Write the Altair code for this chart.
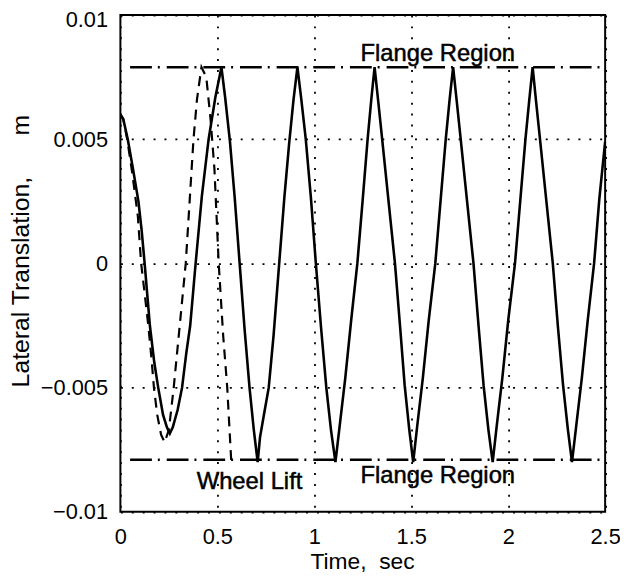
import altair as alt
import pandas as pd

# ---- data (time in s, translation in mm -> converted to m) ----
solid_t = [0.000, 0.015, 0.038, 0.065, 0.093, 0.110, 0.125, 0.152, 0.175, 0.195, 0.220, 0.240,
           0.255, 0.270, 0.295, 0.318, 0.340, 0.360, 0.388, 0.420, 0.455, 0.490, 0.521,
           0.540, 0.565, 0.590, 0.615, 0.640, 0.666, 0.688, 0.708,
           0.720, 0.740, 0.765, 0.790, 0.819, 0.845, 0.870, 0.893, 0.913,
           0.933, 0.956, 0.983, 1.008, 1.035, 1.062, 1.086, 1.109,
           1.130, 1.160, 1.190, 1.222, 1.250, 1.275, 1.294, 1.311,
           1.330, 1.350, 1.383, 1.416, 1.443, 1.466, 1.490, 1.510,
           1.530, 1.560, 1.590, 1.624, 1.652, 1.678, 1.698, 1.716,
           1.735, 1.755, 1.788, 1.821, 1.848, 1.873, 1.898, 1.920,
           1.940, 1.970, 2.000, 2.035, 2.063, 2.089, 2.109, 2.126,
           2.144, 2.164, 2.197, 2.230, 2.257, 2.283, 2.308, 2.329,
           2.350, 2.380, 2.410, 2.443, 2.470, 2.500]
solid_mm = [6.0, 5.8, 5.0, 3.8, 2.5, 1.3, 0.0, -2.5, -4.0, -5.0, -6.1, -6.6,
            -6.85, -6.6, -5.9, -5.0, -3.6, -2.5, 0.0, 2.7, 5.0, 6.7, 7.9,
            6.7, 4.9, 2.6, 0.0, -2.6, -5.0, -6.7, -8.0,
            -7.0, -6.1, -5.0, -2.9, 0.0, 2.6, 4.8, 6.6, 7.9,
            6.6, 5.0, 2.6, 0.0, -2.6, -5.0, -6.7, -8.0,
            -6.6, -4.6, -2.3, 0.0, 2.6, 5.0, 6.6, 7.9,
            6.5, 5.0, 2.5, 0.0, -2.6, -4.9, -6.7, -8.0,
            -6.6, -4.6, -2.3, 0.0, 2.6, 5.0, 6.6, 7.9,
            6.5, 5.0, 2.5, 0.0, -2.6, -4.9, -6.7, -8.0,
            -6.6, -4.6, -2.3, 0.0, 2.6, 5.0, 6.6, 7.9,
            6.5, 5.0, 2.5, 0.0, -2.6, -4.9, -6.7, -8.0,
            -6.6, -4.6, -2.3, 0.0, 2.6, 4.9]

dash_t = [0.000, 0.015, 0.035, 0.060, 0.090, 0.107, 0.125, 0.144, 0.160, 0.173,
          0.190, 0.210, 0.228, 0.250, 0.275, 0.306, 0.337, 0.357, 0.377, 0.395,
          0.418, 0.443, 0.465, 0.485, 0.507, 0.530, 0.551, 0.572]
dash_mm = [6.0, 5.8, 5.0, 3.7, 1.9, 0.0, -1.2, -2.5, -3.8, -5.0,
           -6.1, -6.9, -7.2, -6.7, -5.0, -2.5, 0.0, 2.5, 5.0, 6.6,
           7.9, 7.5, 5.8, 3.8, 0.0, -2.9, -5.0, -8.0]

flange_y = [0.0079, -0.0079]
flange_t0 = [0.05, 0.05]
flange_t1 = [2.5, 2.5]

ann_text = ["Flange Region", "Flange Region", "Wheel Lift"]
ann_t = [1.637, 1.637, 0.666]
ann_y = [0.00814, -0.00884, -0.00907]

x_ticks = [0, 0.5, 1, 1.5, 2, 2.5]
y_ticks = [-0.01, -0.005, 0, 0.005, 0.01]

FONT = "Liberation Sans"
X_TITLE = "Time,\u00a0\u00a0sec"
Y_TITLE = "Lateral Translation,\u00a0\u00a0\u00a0\u00a0\u00a0 m"

df_solid = pd.DataFrame({"t": solid_t, "y": [v / 1000 for v in solid_mm]})
df_dash = pd.DataFrame({"t": dash_t, "y": [v / 1000 for v in dash_mm]})
df_flange = pd.DataFrame({"t": flange_t0, "t2": flange_t1, "y": flange_y})
df_ann = pd.DataFrame({"label": ann_text, "t": ann_t, "y": ann_y})

xs = alt.Scale(domain=[0, 2.5], nice=False, zero=False)
ys = alt.Scale(domain=[-0.01, 0.01], nice=False, zero=False)

x_axis = alt.Axis(
    values=x_ticks, format="~g", title=X_TITLE,
    grid=True, gridColor="black", gridDash=[2, 9], gridWidth=1.8, gridOpacity=1,
    domain=False, ticks=False, labelFlush=False, labelOverlap=False,
    labelFont=FONT, labelFontSize=22, labelColor="black", labelPadding=15,
    titleFont=FONT, titleFontSize=23, titleFontWeight="normal", titleColor="black",
    titleX=244, titleY=57, titleBaseline="alphabetic", titleAnchor="middle")
y_axis = alt.Axis(
    values=y_ticks, format="~g", title=Y_TITLE,
    grid=True, gridColor="black", gridDash=[2, 9], gridWidth=1.8, gridOpacity=1,
    domain=False, ticks=False, labelFlush=False, labelOverlap=False,
    labelOffset={"condition": {"test": "datum.value > 0.009", "value": 4.5}, "value": 0},
    labelFont=FONT, labelFontSize=22, labelColor="black", labelPadding=13,
    titleFont=FONT, titleFontSize=25, titleFontWeight="normal", titleColor="black",
    titleX=-101, titleY=238, titleAngle=-90, titleAlign="center",
    titleBaseline="middle")

X = alt.X("t:Q", scale=xs, axis=x_axis, title=X_TITLE)
Y = alt.Y("y:Q", scale=ys, axis=y_axis, title=Y_TITLE)

solid = alt.Chart(df_solid).mark_line(color="black", strokeWidth=2.6, clip=True).encode(
    x=X, y=Y, order="t:Q")

dashed = alt.Chart(df_dash).mark_line(color="black", strokeWidth=2.2, strokeDash=[10, 7],
                                      clip=True).encode(x=X, y=Y, order="t:Q")

flange = alt.Chart(df_flange).mark_rule(color="black", strokeWidth=2.6,
                                        strokeDash=[22, 6, 2, 7]).encode(
    x=X, x2="t2:Q", y=Y)

labels = alt.Chart(df_ann).mark_text(font=FONT, fontSize=24, color="black",
                                     stroke="black", strokeWidth=0.5,
                                     align="center", baseline="alphabetic").encode(
    x=X, y=Y, text="label:N")

chart = alt.layer(solid, dashed, flange, labels).properties(
    width=489.5,
    height=501.7,
    autosize=alt.AutoSizeParams(type="none"),
    padding={"left": 113.5, "top": 4.3, "right": 15, "bottom": 60},
    background="white",
).configure_view(
    stroke="black", strokeWidth=2
)

chart.save("out.html", embed_options={"renderer": "svg", "actions": False})
